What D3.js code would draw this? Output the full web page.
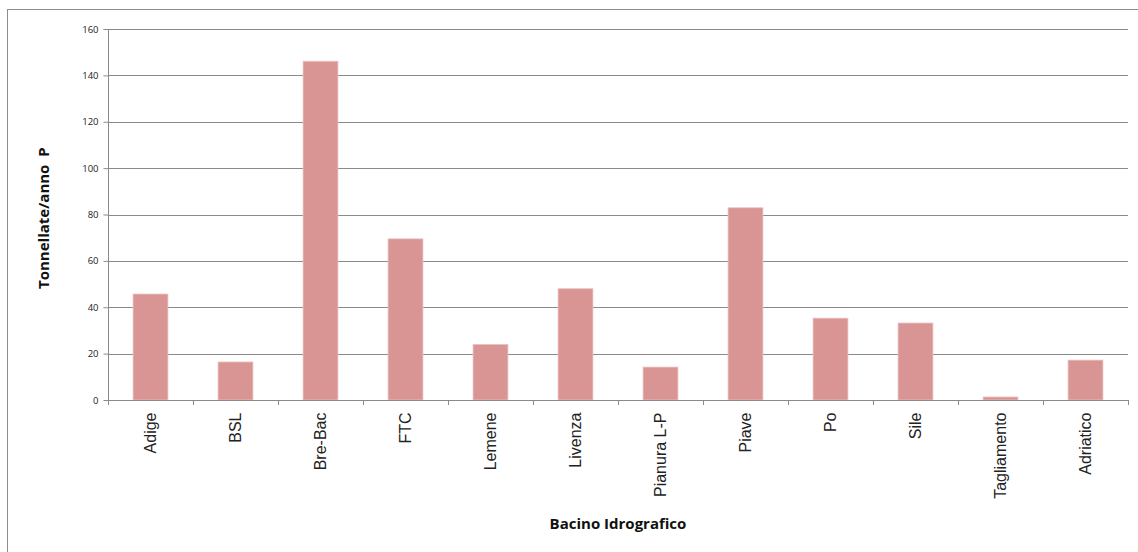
<!DOCTYPE html>
<html lang="it">
<head>
<meta charset="utf-8">
<title>Tonnellate/anno P per bacino</title>
<script src="https://d3js.org/d3.v7.min.js"></script>
<style>
  body { margin: 0; background: #fff; }
  svg { display: block; }
  .tick text { fill: #222; }
</style>
</head>
<body>
<div id="chart"></div>
<script>
  // dati
  var bacini = ["Adige", "BSL", "Bre-Bac", "FTC", "Lemene", "Livenza",
    "Pianura L-P", "Piave", "Po", "Sile", "Tagliamento", "Adriatico"];
  var carico = [45.7, 16.4, 146.1, 69.5, 24.0, 48.0, 14.2, 82.9, 35.3, 33.2, 1.3, 17.2];
  var yTicks = [0, 20, 40, 60, 80, 100, 120, 140, 160];

  var width = 1138, height = 552;
  var margin = { top: 29, right: 10, bottom: 152, left: 108 };

  var svg = d3.select("#chart").append("svg")
    .attr("width", width)
    .attr("height", height);

  // cornice esterna (il bordo destro e in basso esce dall'immagine)
  svg.append("rect")
    .attr("x", 7.5).attr("y", 9.5)
    .attr("width", width).attr("height", height)
    .attr("fill", "none")
    .attr("stroke", "#8c8c8c");

  var x = d3.scaleBand()
    .domain(bacini)
    .range([margin.left, width - margin.right])
    .paddingInner(0.59)
    .paddingOuter(0.295);

  var xCat = d3.scaleBand()
    .domain(bacini)
    .range([margin.left, width - margin.right]);

  var y = d3.scaleLinear()
    .domain([0, 160])
    .range([height - margin.bottom, margin.top]);

  // griglia
  svg.append("g")
    .selectAll("line")
    .data(yTicks.slice(1))
    .join("line")
    .attr("x1", margin.left)
    .attr("x2", width - margin.right)
    .attr("y1", function (d) { return Math.round(y(d)) + 0.5; })
    .attr("y2", function (d) { return Math.round(y(d)) + 0.5; })
    .attr("stroke", "#8a8a8a");

  // barre
  svg.append("g")
    .selectAll("rect")
    .data(bacini)
    .join("rect")
    .attr("x", function (d) { return x(d); })
    .attr("y", function (d, i) { return y(carico[i]); })
    .attr("width", x.bandwidth())
    .attr("height", function (d, i) { return y(0) - y(carico[i]); })
    .attr("fill", "#d99594")
    .attr("stroke", "#e9c3c2")
    .attr("stroke-width", 0.8);

  // asse y
  var yAxis = svg.append("g")
    .attr("transform", "translate(" + (margin.left + 0.5) + ",0)")
    .call(d3.axisLeft(y).tickValues(yTicks).tickSize(5).tickPadding(5));
  yAxis.selectAll("path, line").attr("stroke", "#8a8a8a");
  yAxis.select(".domain").attr("d", "M0," + y(160) + "V" + y(0));
  yAxis.selectAll("text")
    .attr("font-family", "'Open Sans', sans-serif")
    .attr("font-size", "9.5px");

  // asse x
  var xAxis = svg.append("g")
    .attr("transform", "translate(0," + (Math.round(y(0)) + 0.5) + ")")
    .call(d3.axisBottom(xCat).tickSize(0).tickPadding(0));
  xAxis.select(".domain").attr("stroke", "#8a8a8a")
    .attr("d", "M" + margin.left + ",0H" + (width - margin.right));
  xAxis.selectAll("text")
    .attr("font-family", "'Liberation Sans', Arial, sans-serif")
    .attr("font-size", "16px")
    .attr("fill", "#1a1a1a")
    .attr("text-anchor", "end")
    .attr("dy", "0.35em")
    .attr("transform", "translate(0,12) rotate(-90)")
    .attr("y", 0);

  // tacche tra le categorie
  svg.append("g")
    .selectAll("line")
    .data(bacini.concat(["_end"]))
    .join("line")
    .attr("x1", function (d, i) { return Math.round(margin.left + i * xCat.step()) + 0.5; })
    .attr("x2", function (d, i) { return Math.round(margin.left + i * xCat.step()) + 0.5; })
    .attr("y1", y(0))
    .attr("y2", y(0) + 5)
    .attr("stroke", "#8a8a8a");

  // titoli
  svg.append("text")
    .attr("x", (margin.left + width - margin.right) / 2)
    .attr("y", 529)
    .attr("text-anchor", "middle")
    .attr("font-family", "'Open Sans', sans-serif")
    .attr("font-weight", "bold")
    .attr("font-size", "15px")
    .attr("fill", "#111")
    .text("Bacino Idrografico");

  svg.append("text")
    .attr("transform", "translate(49,289) rotate(-90)")
    .attr("font-family", "'Open Sans', sans-serif")
    .attr("font-weight", "bold")
    .attr("font-size", "15px")
    .attr("fill", "#111")
    .attr("xml:space", "preserve")
    .style("white-space", "pre")
    .text("Tonnellate/anno  P");
</script>
</body>
</html>
